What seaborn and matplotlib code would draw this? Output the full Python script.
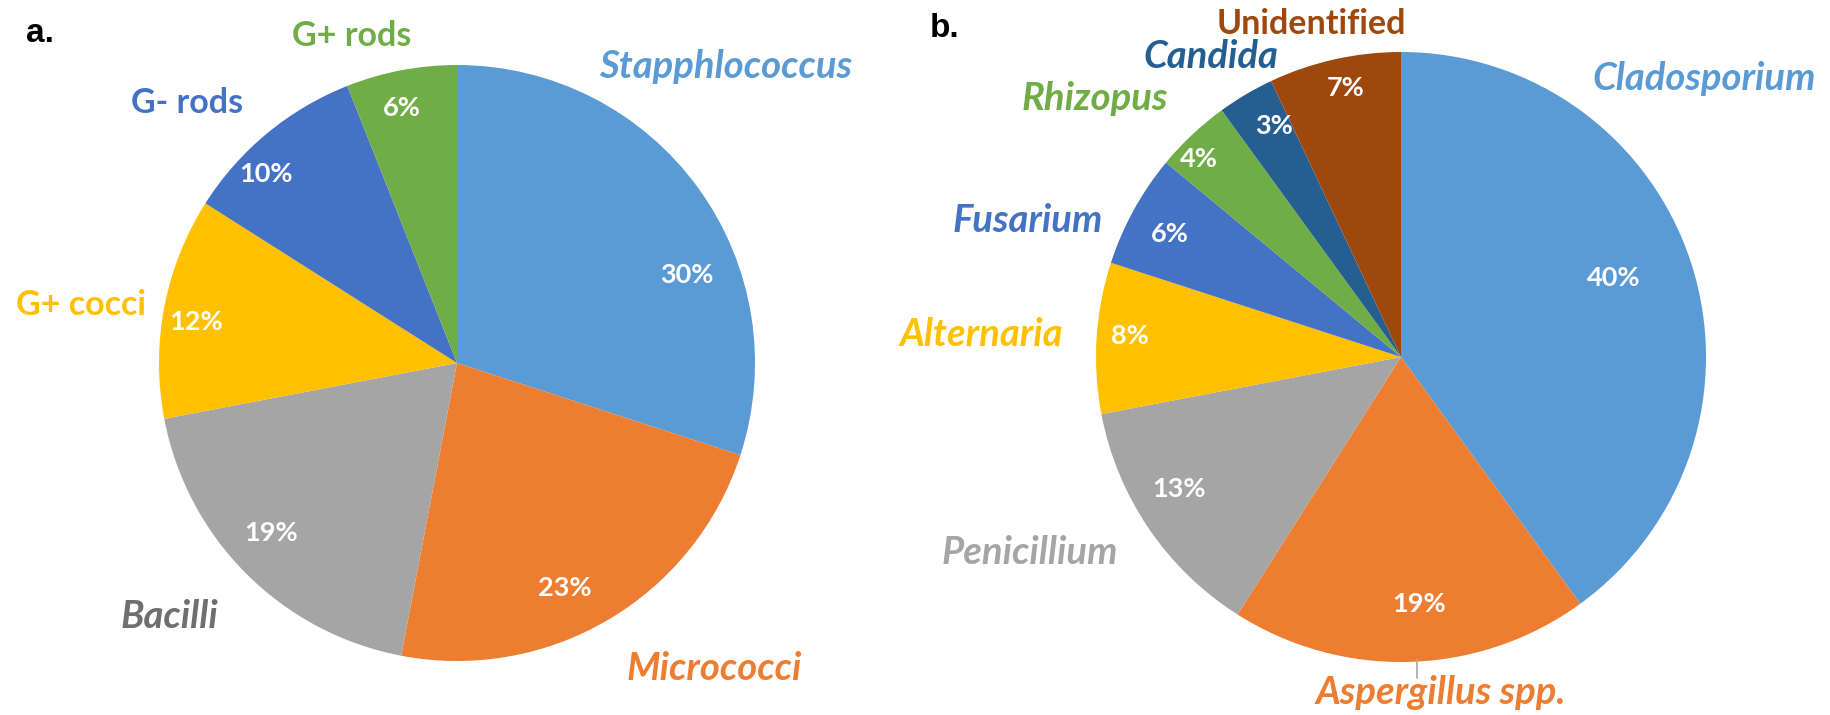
import numpy as np
import matplotlib
matplotlib.use("Agg")
import matplotlib.pyplot as plt
import seaborn as sns

sns.set_theme(style="white")
plt.rcParams['font.family'] = ['Lato', 'DejaVu Sans']

# a. bacteria
bact_names = ["Stapphlococcus", "Micrococci", "Bacilli", "G+ cocci", "G- rods", "G+ rods"]
bact_pct = [30, 23, 19, 12, 10, 6]
bact_colors = ["#5B9BD5", "#ED7D31", "#A5A5A5", "#FFC000", "#4472C4", "#70AD47"]
bact_label_colors = ["#5B9BD5", "#ED7D31", "#6F6F6F", "#FFC000", "#4472C4", "#70AD47"]
bact_italic = [True, True, True, False, False, False]

# b. fungi
fung_names = ["Cladosporium", "Aspergillus spp.", "Penicillium", "Alternaria",
              "Fusarium", "Rhizopus", "Candida", "Unidentified"]
fung_pct = [40, 19, 13, 8, 6, 4, 3, 7]
fung_colors = ["#5B9BD5", "#ED7D31", "#A5A5A5", "#FFC000",
               "#4472C4", "#70AD47", "#255E91", "#9E480E"]
fung_label_colors = fung_colors
fung_italic = [True, True, True, True, True, True, True, False]

# label placement in figure pixels (x centre, y centre from top)
bact_lab_px = [(726, 63), (714, 665), (169, 613), (81, 301), (187, 99), (352, 32)]
bact_pct_px = [(687, 271), (565, 584), (271, 529), (196, 318), (266, 170), (402, 104)]
fung_lab_px = [(1704, 74), (1441, 689), (1030, 549), (981, 330),
               (1028, 216), (1095, 94), (1211, 53), (1311, 20)]
fung_pct_px = [(1614, 274), (1419, 600), (1179, 485), (1130, 332),
               (1170, 230), (1199, 155), (1274, 122), (1346, 84)]

W, H = 1831, 715
fig = plt.figure(figsize=(W / 100, H / 100), dpi=100)


def draw_pie(box, center, R, names, vals, colors, lab_colors, italic, lab_px, pct_px):
    x0, x1 = box
    cx, cy = center
    ax = fig.add_axes([x0 / W, 0, (x1 - x0) / W, 1])
    to_data = lambda p: ((p[0] - cx) / R, (cy - p[1] - 4) / R)
    wedges, texts, autotexts = ax.pie(vals, labels=names, colors=colors, startangle=90,
                                      counterclock=False, autopct=lambda p: f"{p:.0f}%",
                                      wedgeprops=dict(linewidth=0))
    for t, c, it, p in zip(texts, lab_colors, italic, lab_px):
        t.set_position(to_data(p))
        t.set_ha("center")
        t.set_va("center")
        t.set_color(c)
        t.set_fontsize(27.5 if it else 24.5)
        t.set_fontweight("bold")
        t.set_fontstyle("italic" if it else "normal")
    for t, p in zip(autotexts, pct_px):
        t.set_position(to_data(p))
        t.set_ha("center")
        t.set_va("center")
        t.set_color("white")
        t.set_fontsize(19.5)
        t.set_fontweight("bold")
    ax.set_xlim(-(cx - x0) / R, (x1 - cx) / R)
    ax.set_ylim(-(H - cy) / R, cy / R)
    ax.set_aspect("auto")
    return ax


ax1 = draw_pie((0, 915), (457, 363), 298, bact_names, bact_pct, bact_colors,
               bact_label_colors, bact_italic, bact_lab_px, bact_pct_px)
ax2 = draw_pie((920, W), (1401, 357), 305, fung_names, fung_pct, fung_colors,
               fung_label_colors, fung_italic, fung_lab_px, fung_pct_px)

# small leader line under the Aspergillus slice
ax2.plot([16 / 305, 16 / 305], [-(660 - 357) / 305, -(678 - 357) / 305],
         color="#A5A5A5", lw=1.2)

fig.text(40 / W, 1 - 42 / H, "a.", fontsize=24, fontweight="bold", color="black",
         family="Liberation Sans", ha="center", va="baseline")
fig.text(945 / W, 1 - 37 / H, "b.", fontsize=24, fontweight="bold", color="black",
         family="Liberation Sans", ha="center", va="baseline")

fig.savefig("out.png", dpi=100, facecolor="white")
